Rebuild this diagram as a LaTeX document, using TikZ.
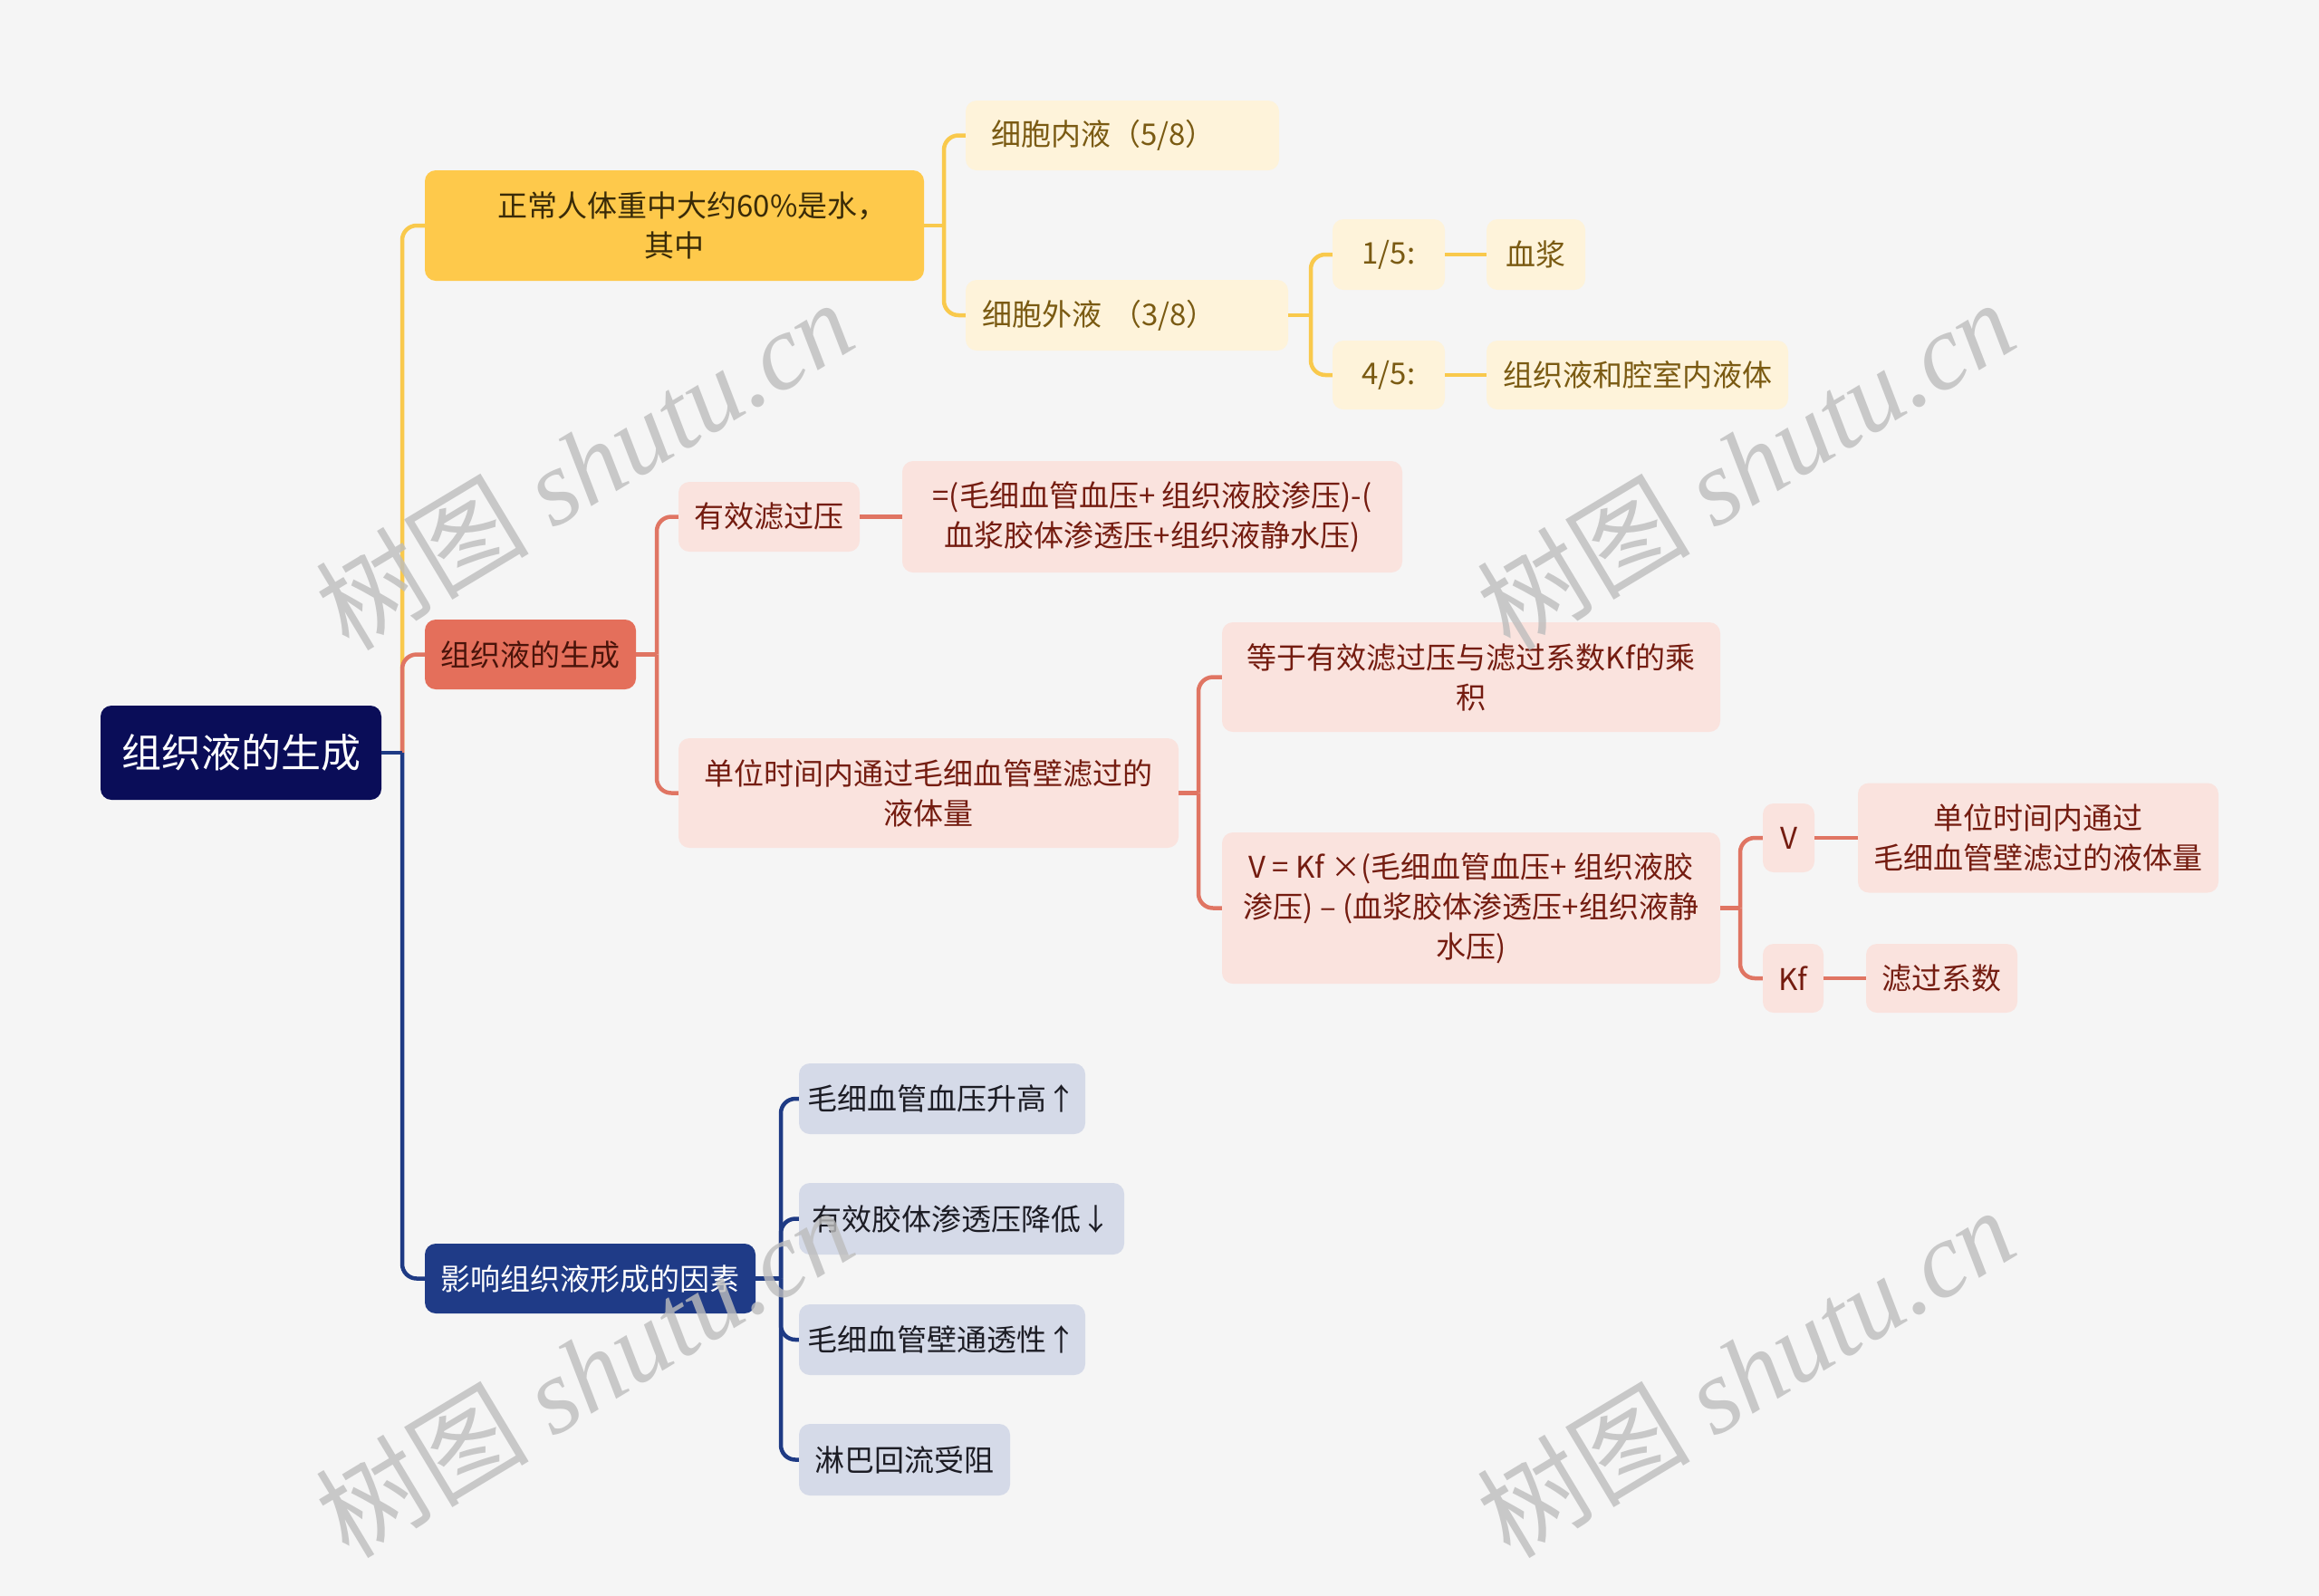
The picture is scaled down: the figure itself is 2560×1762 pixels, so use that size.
\documentclass[tikz,border=0pt]{standalone}
\usepackage{fontspec}
\setmainfont{Noto Sans CJK SC}
\newfontfamily\wmlatin{Liberation Serif}
\definecolor{bgc}{HTML}{F5F5F5}
\definecolor{rootc}{HTML}{0A0D58}
\definecolor{ymain}{HTML}{FEC94B}
\definecolor{yline}{HTML}{F9C94C}
\definecolor{ysub}{HTML}{FEF3DA}
\definecolor{ytext}{HTML}{7A5A12}
\definecolor{ymtext}{HTML}{3A2B08}
\definecolor{rmain}{HTML}{E46F5B}
\definecolor{rline}{HTML}{E07563}
\definecolor{rsub}{HTML}{FAE3DE}
\definecolor{rtext}{HTML}{741C10}
\definecolor{rmtext}{HTML}{4A140A}
\definecolor{bmain}{HTML}{1F3B87}
\definecolor{bline}{HTML}{1E3A84}
\definecolor{bsub}{HTML}{D5DAE8}
\definecolor{btext}{HTML}{1C1C24}
\definecolor{wmc}{HTML}{BDBDBD}
\tikzset{
  box/.style={rounded corners=12pt, inner sep=0pt, align=center, font=\fontsize{33}{44}\selectfont},
  rootbox/.style={box, fill=rootc, text=white, font=\fontsize{44}{54}\selectfont},
  ymainbox/.style={box, fill=ymain, text=ymtext},
  ysubbox/.style={box, fill=ysub, text=ytext},
  rmainbox/.style={box, fill=rmain, text=rmtext},
  rsubbox/.style={box, fill=rsub, text=rtext},
  bmainbox/.style={box, fill=bmain, text=white},
  bsubbox/.style={box, fill=bsub, text=btext},
  conn/.style={line width=4.5pt, rounded corners=16pt},
  yconn/.style={conn, draw=yline},
  rconn/.style={conn, draw=rline},
  bconn/.style={conn, draw=bline},
  wmark/.style={text=wmc, opacity=0.8, rotate=31, inner sep=0pt}
}
\begin{document}
\begin{tikzpicture}[x=1pt,y=-1pt]
\fill[bgc] (0,0) rectangle (2560,1762);
\useasboundingbox (0,0) rectangle (2560,1762);

% root and main branches
\node[rootbox, minimum width=310, minimum height=104] (root) at (266,831) {组织液的生成};
\node[ymainbox, minimum width=551, minimum height=122] (Y) at (744.5,249) {\hspace*{40pt}正常人体重中大约60\%是水，\\其中};
\node[rmainbox, minimum width=233, minimum height=77] (R) at (585.5,722.5) {组织液的生成};
\node[bmainbox, minimum width=365, minimum height=77] (B) at (651.5,1411.5) {影响组织液形成的因素};

% yellow subtree
\node[ysubbox, minimum width=346, minimum height=77, inner xsep=28pt, text width=290pt, align=left] (y1) at (1239,149.5) {细胞内液（5/8）};
\node[ysubbox, minimum width=356, minimum height=78, inner xsep=18pt, text width=320pt, align=left] (y2) at (1244,348) {细胞外液 （3/8）};
\node[ysubbox, minimum width=124, minimum height=78] (y3) at (1533,281) {1/5:};
\node[ysubbox, minimum width=109, minimum height=78] (y4) at (1695.5,281) {血浆};
\node[ysubbox, minimum width=124, minimum height=76] (y5) at (1533,414) {4/5:};
\node[ysubbox, minimum width=333, minimum height=76] (y6) at (1807.5,414) {组织液和腔室内液体};

% red subtree
\node[rsubbox, minimum width=200, minimum height=77] (r1) at (849,570.5) {有效滤过压};
\node[rsubbox, minimum width=552, minimum height=123] (r2) at (1272,570.5) {=(毛细血管血压+ 组织液胶渗压)-(\\血浆胶体渗透压+组织液静水压)};
\node[rsubbox, minimum width=552, minimum height=121] (r3) at (1025,875.5) {单位时间内通过毛细血管壁滤过的\\液体量};
\node[rsubbox, minimum width=550, minimum height=121] (r4) at (1624,747.5) {等于有效滤过压与滤过系数Kf的乘\\积};
\node[rsubbox, minimum width=550, minimum height=167] (r5) at (1624,1002.5) {V = Kf ×(毛细血管血压+ 组织液胶\\渗压) – (血浆胶体渗透压+组织液静\\水压)};
\node[rsubbox, minimum width=57, minimum height=76] (r6) at (1974.5,925) {V};
\node[rsubbox, minimum width=398, minimum height=121] (r7) at (2250,925) {单位时间内通过\\毛细血管壁滤过的液体量};
\node[rsubbox, minimum width=67, minimum height=76] (r8) at (1979.5,1080) {Kf};
\node[rsubbox, minimum width=167, minimum height=76] (r9) at (2143.5,1080) {滤过系数};

% blue subtree
\node[bsubbox, minimum width=316, minimum height=78] (b1) at (1040,1213) {毛细血管血压升高↑};
\node[bsubbox, minimum width=359, minimum height=79] (b2) at (1061.5,1345.5) {有效胶体渗透压降低↓};
\node[bsubbox, minimum width=316, minimum height=78] (b3) at (1040,1479) {毛细血管壁通透性↑};
\node[bsubbox, minimum width=233, minimum height=79] (b4) at (998.5,1611.5) {淋巴回流受阻};

% junction coordinates
\coordinate (j0) at (444,831);
\coordinate (j1) at (1042,249);
\coordinate (j2) at (1447,348);
\coordinate (j3) at (725,722.5);
\coordinate (j4) at (1323,875.5);
\coordinate (j5) at (1921,1002.5);
\coordinate (j6) at (862,1411.5);

% yellow connectors
\draw[yconn] (j0) |- (Y.west);
\draw[yconn] (Y.east) -- (j1);
\draw[yconn] (j1) |- (y1.west);
\draw[yconn] (j1) |- (y2.west);
\draw[yconn] (y2.east) -- (j2);
\draw[yconn] (j2) |- (y3.west);
\draw[yconn] (j2) |- (y5.west);
\draw[yconn] (y3.east) -- (y4.west);
\draw[yconn] (y5.east) -- (y6.west);

% red connectors
\draw[rconn] (j0) |- (R.west);
\draw[rconn] (R.east) -- (j3);
\draw[rconn] (j3) |- (r1.west);
\draw[rconn] (j3) |- (r3.west);
\draw[rconn] (r1.east) -- (r2.west);
\draw[rconn] (r3.east) -- (j4);
\draw[rconn] (j4) |- (r4.west);
\draw[rconn] (j4) |- (r5.west);
\draw[rconn] (r5.east) -- (j5);
\draw[rconn] (j5) |- (r6.west);
\draw[rconn] (j5) |- (r8.west);
\draw[rconn] (r6.east) -- (r7.west);
\draw[rconn] (r8.east) -- (r9.west);

% blue connectors
\draw[bconn] (root.east) -- (j0);
\draw[bconn] (j0) |- (B.west);
\draw[bconn] (B.east) -- (j6);
\draw[bconn] (j6) |- (b1.west);
\draw[bconn] (j6) |- (b2.west);
\draw[bconn] (j6) |- (b3.west);
\draw[bconn] (j6) |- (b4.west);

% watermarks
\node[wmark] (wm1) at (645,512) {\fontsize{118}{120}\selectfont 树图 \wmlatin\itshape shutu.cn};
\node[wmark] (wm2) at (1927,512) {\fontsize{118}{120}\selectfont 树图 \wmlatin\itshape shutu.cn};
\node[wmark] (wm3) at (645,1514) {\fontsize{118}{120}\selectfont 树图 \wmlatin\itshape shutu.cn};
\node[wmark] (wm4) at (1927,1514) {\fontsize{118}{120}\selectfont 树图 \wmlatin\itshape shutu.cn};
\end{tikzpicture}
\end{document}
